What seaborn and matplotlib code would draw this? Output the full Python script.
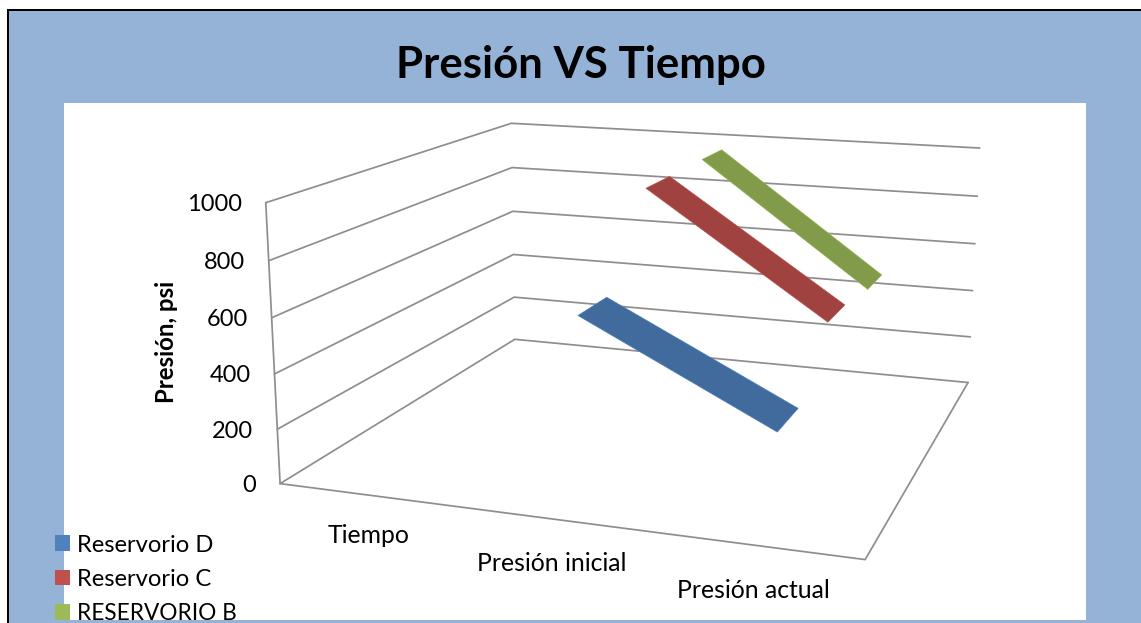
import numpy as np
import pandas as pd
import matplotlib
matplotlib.use('Agg')
import matplotlib.pyplot as plt
from matplotlib.patches import Patch, Rectangle
from mpl_toolkits.mplot3d import proj3d
from mpl_toolkits.mplot3d.art3d import Poly3DCollection
import seaborn as sns

categories = ['Tiempo', 'Presión inicial', 'Presión actual']
series_names = ['Reservorio D', 'Reservorio C', 'RESERVORIO B']
reservorio_d = [np.nan, 650, 318]
reservorio_c = [np.nan, 966, 520]
reservorio_b = [np.nan, 969, 487]
z_ticks = [0, 200, 400, 600, 800, 1000]
base_colors = ['#4F81BD', '#C0504D', '#9BBB59']

sns.set_theme(style='white')
plt.rcParams['font.family'] = ['Lato', 'DejaVu Sans']
text_color = '#000000'

df = pd.DataFrame([reservorio_d, reservorio_c, reservorio_b], index=series_names, columns=categories)
palette = sns.color_palette(base_colors)

W, H = 1141, 623
fig = plt.figure(figsize=(W/100, H/100), dpi=100)
fig.patch.set_facecolor('white')


def box(x0, y0, x1, y1, color, zorder):
    # rectangle given in picture pixels, y from the top
    fig.add_artist(Rectangle((x0/W, 1-y1/H), (x1-x0)/W, (y1-y0)/H, transform=fig.transFigure,
                             facecolor=color, edgecolor='none', zorder=zorder))


box(7, 9, W+2, H+2, 'black', -3)
box(9, 11, W+2, H+2, '#95B3D7', -2)
box(64, 103, 1086, 620, 'white', -1)

# 3d box fitted to the picture's camera
scale, cx, cy = 4280.78, 656.96, 320.15
side = 0.185*scale
ax = fig.add_axes([(cx-0.095*scale)/W, (cy-0.095*scale)/H, side/W, side/H], projection='3d')
ax.set_xlim(-0.5, 2.5)
ax.set_ylim(-0.5, 2.5)
ax.set_zlim(0, 1000)
ax.view_init(elev=13.8613, azim=-71.2568, roll=-0.2549)
ax.set_proj_type('persp', focal_length=0.4013)
ax.set_box_aspect((2.0833, 2.0653, 1.0))
ax.set_axis_off()
ax.set_facecolor('none')
ax.computed_zorder = False

# walls and floor, the back corner has no upright in the original
grid = dict(color='#8E8E8E', lw=1.25, zorder=1)
for z in z_ticks:
    ax.plot([-0.5, -0.5, 2.5], [-0.5, 2.5, 2.5], [z, z, z], **grid)
ax.plot([-0.5, -0.5], [-0.5, -0.5], [0, 1000], **grid)
ax.plot([-0.5, 2.5, 2.5], [-0.5, -0.5, 2.5], [0, 0, 0], **grid)

# ribbons, one per series
half = 0.2
for k, name in enumerate(series_names):
    vals = df.loc[name].values
    face = tuple(c*0.83 for c in palette[k])
    for i in range(len(vals)-1):
        if np.isnan(vals[i]) or np.isnan(vals[i+1]):
            continue
        verts = [[(i, k-half, vals[i]), (i, k+half, vals[i]),
                  (i+1, k+half, vals[i+1]), (i+1, k-half, vals[i+1])]]
        ax.add_collection3d(Poly3DCollection(verts, facecolors=[face], edgecolors=[palette[k]],
                                             linewidths=0.4, zorder=3+k))

M = ax.get_proj()


def place(text, x, y, z, dx, dy, **kw):
    xp, yp, _ = proj3d.proj_transform(x, y, z, M)
    ax.annotate(text, xy=(xp, yp), xytext=(dx, dy), textcoords='offset pixels', color=text_color, **kw)


for z in z_ticks:
    place(str(z), -0.5, -0.5, z, -24, -2, ha='right', va='center', fontsize=17)
label_dx = [0, -4.5, -4.5]
label_dy = [-40, -44, -45]
for i, cat in enumerate(categories):
    place(cat, i, -0.5, 0, label_dx[i], label_dy[i], ha='center', va='center', fontsize=17.8)

fig.text(581/W, 1-65/H, 'Presión VS Tiempo', ha='center', va='center', fontsize=31.5, fontweight='bold', color=text_color)
fig.text(167/W, 1-341.5/H, 'Presión, psi', rotation=90, ha='center', va='center', fontsize=17.3, fontweight='bold', color=text_color)

handles = [Patch(facecolor=c, edgecolor='none') for c in base_colors]
leg = fig.legend(handles, series_names, loc='upper left', bbox_to_anchor=(55/W, 1-534.5/H), frameon=False,
                 fontsize=17.1, handlelength=0.63, handleheight=0.63, handletextpad=0.29, labelspacing=0.568,
                 borderpad=0, borderaxespad=0, labelcolor=text_color)
# capitals run wide in Lato
leg.get_texts()[2].set_fontsize(16.3)

fig.savefig('out.png', dpi=100)
